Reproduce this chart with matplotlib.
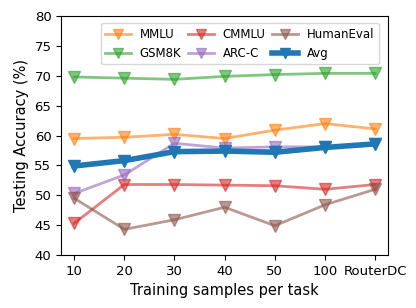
import matplotlib
matplotlib.use("Agg")
import matplotlib.pyplot as plt

x_labels = ["10", "20", "30", "40", "50", "100", "RouterDC"]
mmlu = [59.5, 59.7, 60.2, 59.5, 60.9, 62.0, 61.1]
gsm8k = [69.8, 69.6, 69.4, 69.9, 70.2, 70.4, 70.4]
cmmlu = [45.3, 51.8, 51.8, 51.7, 51.6, 51.0, 51.8]
arcc = [50.3, 53.4, 58.7, 57.9, 58.1, 58.1, 58.5]
humaneval = [49.5, 44.3, 45.9, 48.0, 44.9, 48.4, 51.0]
avg = [54.9, 55.8, 57.3, 57.4, 57.2, 58.0, 58.6]

fig = plt.figure(figsize=(4.16, 3.08), dpi=100)
ax = fig.add_axes([0.147, 0.172, 0.786, 0.776])
xs = list(range(len(x_labels)))
series = [("MMLU", mmlu, "tab:orange"), ("GSM8K", gsm8k, "tab:green"),
          ("CMMLU", cmmlu, "tab:red"), ("ARC-C", arcc, "tab:purple"),
          ("HumanEval", humaneval, "tab:brown")]
for name, vals, c in series:
    ax.plot(xs, vals, marker="v", color=c, alpha=0.6, lw=2, markersize=8, label=name)
ax.plot(xs, avg, marker="v", color="tab:blue", lw=4, markersize=8, label="Avg")
ax.set_xticks(xs)
ax.set_xticklabels(x_labels)
ax.set_ylim(40, 80)
ax.set_yticks(range(40, 81, 5))
ax.set_xlim(-0.26, 6.26)
ax.tick_params(labelsize=9.5)
ax.set_xlabel("Training samples per task", fontsize=10.5)
ax.set_ylabel("Testing Accuracy (%)", fontsize=10.5)
ax.legend(ncol=3, loc="upper right", fontsize=8.5, handlelength=2.2, columnspacing=0.6,
          handletextpad=0.7, markerscale=0.85, bbox_to_anchor=(0.99, 0.995))
fig.savefig("out.png", dpi=100)
